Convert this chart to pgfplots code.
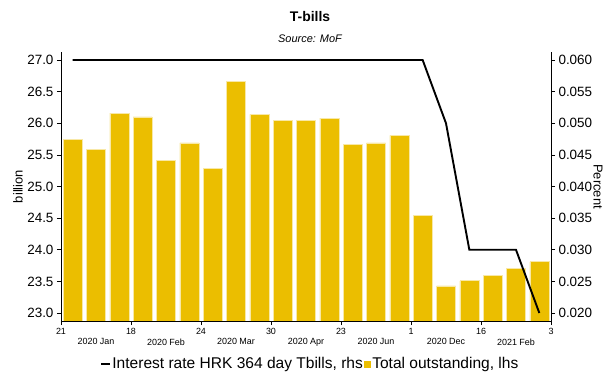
\documentclass[border=0pt]{standalone}
\usepackage{fontspec}
\setmainfont{Liberation Sans}
\usepackage{pgfplots}
\pgfplotsset{compat=1.18}
\definecolor{barcol}{RGB}{235,190,0}

\pgfplotstableread{
x  total
0  25.75
1  25.59
2  26.16
3  26.10
4  25.41
5  25.69
6  25.29
7  26.66
8  26.14
9  26.04
10 26.04
11 26.08
12 25.66
13 25.69
14 25.81
15 24.54
16 23.43
17 23.51
18 23.60
19 23.70
20 23.81
}\totaltable

\pgfplotstableread{
x  rate
0  0.060
1  0.060
2  0.060
3  0.060
4  0.060
5  0.060
6  0.060
7  0.060
8  0.060
9  0.060
10 0.060
11 0.060
12 0.060
13 0.060
14 0.060
15 0.060
16 0.050
17 0.030
18 0.030
19 0.030
20 0.020
}\ratetable

\pgfplotsset{
  common/.style={
    scale only axis, width=490bp, height=269bp,
    xmin=-0.5, xmax=20.5,
    tick align=outside, major tick length=4bp,
    /pgf/number format/assume math mode=true,
    tick style={black, line width=0.6bp},
    axis line style={black, line width=0.8bp},
  },
}

\begin{document}
\begin{tikzpicture}
\useasboundingbox (-61bp,-55bp) rectangle (550bp,321bp);

% outstanding stock, left axis
\begin{axis}[common,
  ymin=22.874, ymax=27.127,
  axis x line*=bottom, axis y line*=left,
  ytick={23,23.5,24,24.5,25,25.5,26,26.5,27},
  yticklabel style={font=\fontsize{13.5}{16}\selectfont,
    /pgf/number format/.cd, fixed, fixed zerofill, precision=1},
  xtick={-0.5,2.5,5.5,8.5,11.5,14.5,17.5,20.5},
  xticklabels={21,18,24,30,23,1,16,3},
  xticklabel style={font=\fontsize{9}{10}\selectfont},
  extra x ticks={1,4,7,10,13,16,19},
  extra x tick labels={2020 Jan,2020 Feb,2020 Mar,2020 Apr,2020 Jun,2020 Dec,2021 Feb},
  extra x tick style={major tick length=0pt, tick label style={yshift=-14bp}},
  ylabel={billion},
  every axis y label/.style={at={(rel axis cs:0,0.5)}, xshift=-43bp,
    rotate=90, anchor=center, font=\fontsize{13}{15}\selectfont},
]
\addplot[ybar, bar width=19bp, fill=barcol, draw=barcol!35!white, line width=0.6bp]
  table[x=x, y=total] {\totaltable};
\end{axis}

% interest rate, right axis
\begin{axis}[common,
  ymin=0.01874, ymax=0.06127,
  axis y line*=right, axis x line=none,
  scaled y ticks=false,
  ytick={0.020,0.025,0.030,0.035,0.040,0.045,0.050,0.055,0.060},
  yticklabel style={font=\fontsize{13.5}{16}\selectfont,
    /pgf/number format/.cd, fixed, fixed zerofill, precision=3},
  ylabel={Percent},
  every axis y label/.style={at={(rel axis cs:1,0.5)}, xshift=47bp,
    rotate=-90, anchor=center, font=\fontsize{13}{15}\selectfont},
  legend columns=2,
  legend style={at={(rel axis cs:0.508,-0.16)}, anchor=center, draw=none,
    fill=none, font=\fontsize{15.6}{18}\selectfont, inner sep=0pt,
    /tikz/every even column/.style={column sep=0pt},
    /tikz/every odd column/.style={column sep=0pt},
    nodes={inner xsep=1.5bp}},
]
\addplot[black, line width=1.9bp,
  legend image code/.code={\draw[black, line width=2.4bp] (0bp,0bp) -- (8.5bp,0bp);}]
  table[x=x, y=rate] {\ratetable};
\addlegendentry{Interest rate HRK 364 day Tbills, rhs}
\addlegendimage{legend image code/.code={\fill[barcol] (0bp,-3bp) rectangle (6bp,3bp);}}
\addlegendentry{Total outstanding, lhs}
\end{axis}

\node[font=\bfseries\fontsize{14}{16}\selectfont] at (249bp,304.3bp) {T-bills};
\node[font=\itshape\fontsize{11}{13}\selectfont] at (249bp,282bp) {Source: MoF};
\end{tikzpicture}
\end{document}
